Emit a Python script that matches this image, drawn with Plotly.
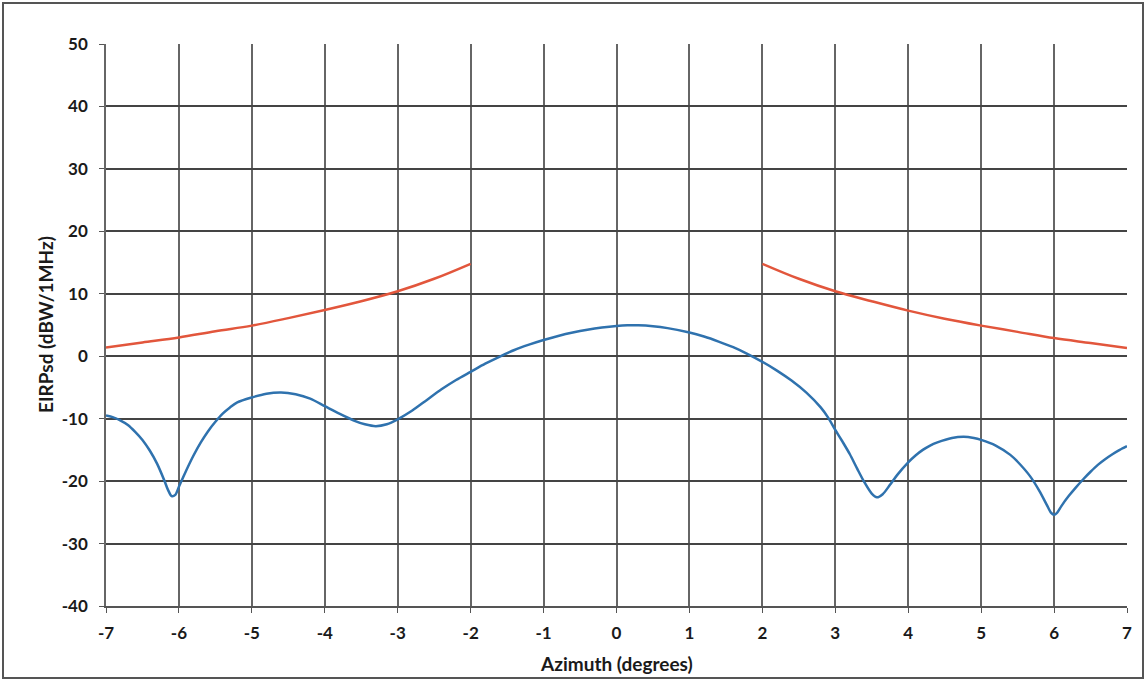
import plotly.graph_objects as go

# EIRP spectral density mask (orange) and measured antenna pattern (blue)
mask_az_left = [-7.0, -6.5, -6.0, -5.5, -5.0, -4.5, -4.0, -3.5, -3.0, -2.5, -2.0]
mask_val_left = [1.4, 2.2, 3.0, 4.0, 4.9, 6.1, 7.4, 8.8, 10.4, 12.4, 14.8]
mask_az_right = [2.0, 2.5, 3.0, 3.5, 4.0, 4.5, 5.0, 5.5, 6.0, 6.5, 7.0]
mask_val_right = [14.8, 12.4, 10.4, 8.8, 7.3, 6.0, 4.9, 3.9, 2.9, 2.1, 1.3]

pattern_az = [
    -7.0, -6.9, -6.8, -6.7, -6.6, -6.5, -6.4, -6.3, -6.2, -6.15, -6.1, -6.05,
    -6.0, -5.9, -5.8, -5.7, -5.6, -5.5, -5.4, -5.3, -5.2, -5.0, -4.8, -4.6,
    -4.4, -4.2, -4.0, -3.8, -3.6, -3.45, -3.3, -3.15, -3.0, -2.8, -2.6, -2.4,
    -2.2, -2.0, -1.8, -1.6, -1.4, -1.2, -1.0, -0.8, -0.6, -0.4, -0.2, 0.0,
    0.15, 0.3, 0.5, 0.7, 1.0, 1.2, 1.4, 1.6, 1.8, 2.0, 2.2, 2.4, 2.6, 2.8,
    2.9, 3.0, 3.1, 3.2, 3.3, 3.4, 3.5, 3.57, 3.65, 3.75, 3.85, 4.0, 4.1, 4.2,
    4.3, 4.4, 4.6, 4.76, 4.9, 5.0, 5.2, 5.4, 5.5, 5.67, 5.8, 5.9, 5.96, 6.0, 6.04,
    6.1, 6.2, 6.3, 6.4, 6.5, 6.6, 6.7, 6.8, 6.9, 7.0,
]
pattern_val = [
    -9.5, -9.8, -10.3, -11.0, -12.1, -13.4, -15.1, -17.2, -19.9, -21.4, -22.4, -22.2,
    -20.9, -18.3, -15.9, -13.8, -12.0, -10.5, -9.2, -8.2, -7.4, -6.6, -6.0, -5.8,
    -6.1, -6.8, -8.0, -9.2, -10.3, -10.9, -11.2, -10.9, -10.1, -8.7, -7.0, -5.3,
    -3.8, -2.5, -1.2, -0.05, 1.0, 1.85, 2.6, 3.25, 3.8, 4.25, 4.6, 4.85,
    4.95, 4.95, 4.8, 4.5, 3.8, 3.15, 2.35, 1.45, 0.35, -0.9, -2.3, -3.9, -5.8, -8.2,
    -9.8, -11.8, -13.7, -15.7, -18.0, -20.2, -22.0, -22.6, -22.1, -20.6, -19.0, -17.0, -15.9, -15.0,
    -14.3, -13.8, -13.1, -12.9, -13.1, -13.4, -14.3, -15.8, -16.9, -19.2, -21.6, -23.8, -25.1, -25.4, -25.1,
    -24.0, -22.4, -21.0, -19.7, -18.5, -17.4, -16.5, -15.7, -15.0, -14.4,
]

x_ticks = list(range(-7, 8))
y_ticks = list(range(-40, 51, 10))

FONT = "Lato"
TEXT = "#1a1a1a"
ml, mr, mt, mb = 106, 20, 44, 75
W, H = 1147, 681
pw, ph = W - ml - mr, H - mt - mb

fig = go.Figure()
fig.add_trace(go.Scatter(x=mask_az_left, y=mask_val_left, mode="lines",
                         line=dict(color="#E2563C", width=2.5, shape="spline"),
                         showlegend=False))
fig.add_trace(go.Scatter(x=mask_az_right, y=mask_val_right, mode="lines",
                         line=dict(color="#E2563C", width=2.5, shape="spline"),
                         showlegend=False))
fig.add_trace(go.Scatter(x=pattern_az, y=pattern_val, mode="lines",
                         line=dict(color="#2F72AE", width=2.5, shape="spline", smoothing=0.8),
                         showlegend=False))

tick_font = dict(family=FONT, size=17, color=TEXT, weight=700)
fig.update_xaxes(range=[-7, 7], tickvals=x_ticks, ticktext=[str(v) for v in x_ticks],
                 showgrid=True, gridcolor="#666666", gridwidth=1.5,
                 showline=True, linecolor="#555555", linewidth=1.5,
                 ticks="outside", ticklen=5, tickcolor="#555555", tickwidth=1.3,
                 zeroline=False, ticklabelstandoff=6, tickfont=tick_font)
fig.update_yaxes(range=[-40, 50], tickvals=y_ticks, ticktext=[str(v) for v in y_ticks],
                 showgrid=True, gridcolor="#444444", gridwidth=1.5,
                 showline=True, linecolor="#666666", linewidth=1.5,
                 ticks="outside", ticklen=5, tickcolor="#555555", tickwidth=1.3,
                 zeroline=False, ticklabelstandoff=8, tickfont=tick_font)

# Axis titles
title_font = dict(family=FONT, size=19, color=TEXT, weight=700)
fig.add_annotation(text="Azimuth (degrees)", xref="paper", yref="paper",
                   x=0.5, y=-(663 - (mt + ph)) / ph, showarrow=False,
                   font=title_font, xanchor="center", yanchor="middle")
fig.add_annotation(text="EIRPsd (dBW/1MHz)", xref="paper", yref="paper",
                   x=(45 - ml) / pw, y=0.5, showarrow=False, textangle=-90,
                   font=title_font, xanchor="center", yanchor="middle")

# Outer frame around the whole chart
fig.add_shape(type="rect", xref="paper", yref="paper",
              x0=(3 - ml) / pw, x1=(1143 - ml) / pw,
              y0=1 - (678 - mt) / ph, y1=1 - (3 - mt) / ph,
              line=dict(color="#555555", width=2), layer="below")

fig.update_layout(
    width=W, height=H,
    margin=dict(l=ml, r=mr, t=mt, b=mb),
    paper_bgcolor="white", plot_bgcolor="white",
)

fig.write_html("out.html")
